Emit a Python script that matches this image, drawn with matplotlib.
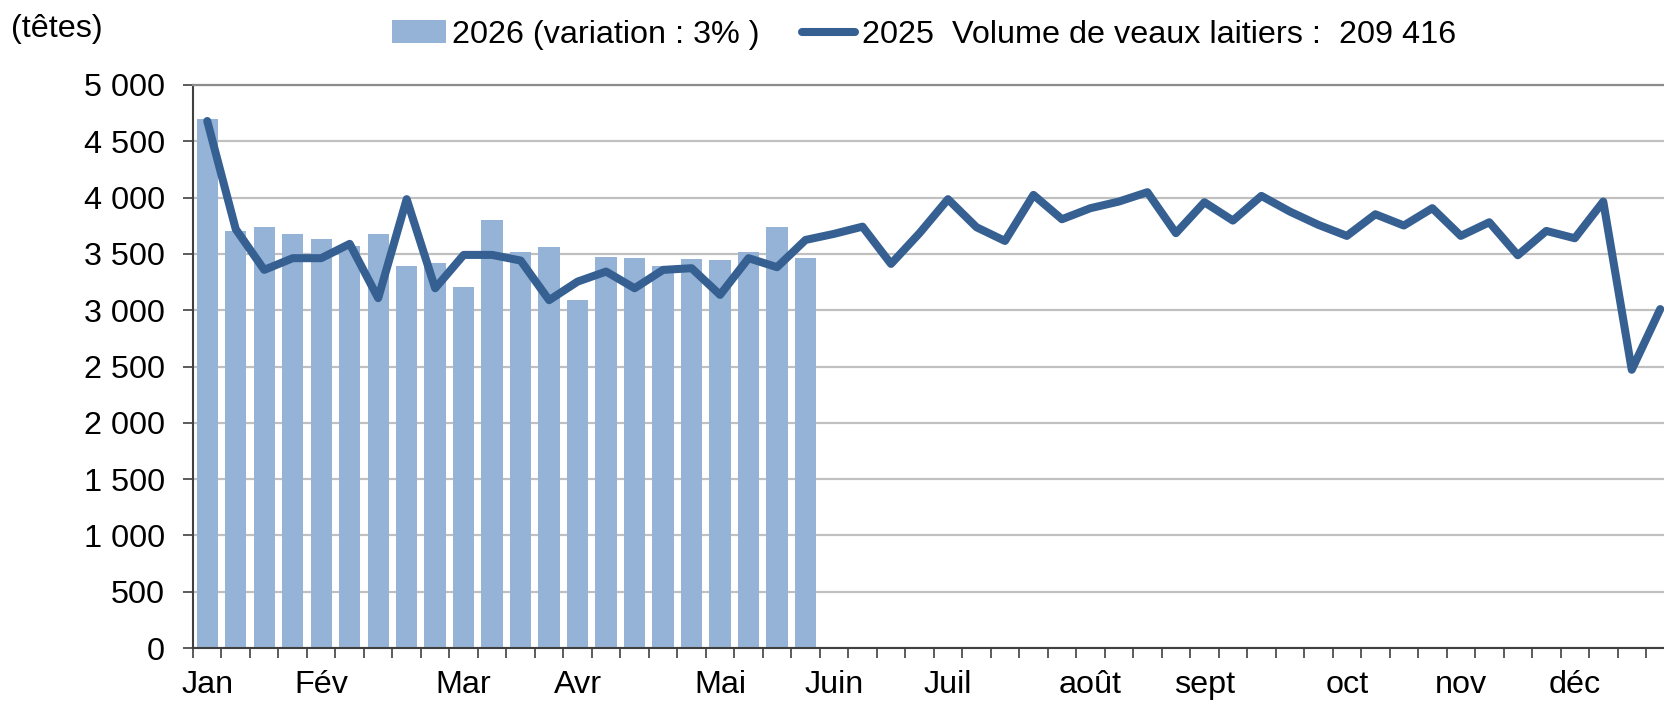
import numpy as np
import matplotlib.pyplot as plt
from matplotlib.ticker import FixedLocator, FuncFormatter

plt.rcParams['font.family'] = ['Liberation Sans', 'DejaVu Sans']

# weekly slaughter volumes (heads)
vol_2026 = [4700, 3700, 3742, 3680, 3636, 3570, 3678, 3393, 3423, 3207, 3802,
            3520, 3559, 3089, 3470, 3464, 3396, 3453, 3450, 3515, 3737, 3464]

vol_2025 = [4680, 3720, 3358, 3462, 3462, 3589, 3107, 3986, 3195, 3491, 3491,
            3441, 3089, 3254, 3343, 3195, 3358, 3373, 3136, 3462, 3382, 3624,
            3678, 3742, 3411, 3684, 3986, 3737, 3615, 4024, 3808, 3906, 3965,
            4048, 3684, 3959, 3796, 4015, 3876, 3758, 3660, 3852, 3752, 3906,
            3660, 3781, 3488, 3704, 3639, 3965, 2471, 3010]

month_labels = ['Jan', 'Fév', 'Mar', 'Avr', 'Mai', 'Juin', 'Juil',
                'août', 'sept', 'oct', 'nov', 'déc']
month_weeks = [0, 4, 9, 13, 18, 22, 26, 31, 35, 40, 44, 48]

label_2026 = '2026 (variation : 3% )'
label_2025 = '2025  Volume de veaux laitiers :  209 416'

bar_col = '#95B3D7'
line_col = '#366092'
fs = 23.3

fig = plt.figure(figsize=(16.64, 7.01), dpi=100)
ax = fig.add_axes([193 / 1664, 53 / 701, 1 - 193 / 1664, 563 / 701])

x26 = np.arange(len(vol_2026))
x25 = np.arange(len(vol_2025))
bars = ax.bar(x26, vol_2026, width=0.75, color=bar_col, zorder=2,
              label=label_2026)
line, = ax.plot(x25, vol_2025, color=line_col, lw=5.8, zorder=3,
                solid_joinstyle='round', solid_capstyle='round',
                label=label_2025)

ax.set_ylim(0, 5000)
ax.set_xlim(-0.5, (1664 - 193) / 28.49 - 0.5)

ax.set_yticks(np.arange(0, 5001, 500))
ax.yaxis.set_major_formatter(FuncFormatter(lambda v, p: f'{int(v):,}'.replace(',', ' ')))
ax.yaxis.grid(True, color='#C0C0C0', lw=1.6, zorder=0)
ax.set_axisbelow(True)

ax.set_xticks(month_weeks)
ax.set_xticklabels(month_labels)
ax.xaxis.set_minor_locator(FixedLocator(np.arange(-0.5, 53, 1)))
ax.tick_params(axis='x', which='major', length=0, pad=16, labelsize=fs)
ax.tick_params(axis='x', which='minor', length=7, width=1.2, color='#404040',
               direction='out')
ax.tick_params(axis='y', length=7, width=1.2, color='#404040', pad=13,
               labelsize=fs)

ax.spines['right'].set_visible(False)
ax.spines['top'].set_color('#8C8C8C')
ax.spines['top'].set_linewidth(1.6)
ax.spines['left'].set_color('#404040')
ax.spines['left'].set_linewidth(1.5)
ax.spines['bottom'].set_color('#404040')
ax.spines['bottom'].set_linewidth(1.5)

fig.text(11 / 1664, 1 - 29 / 701, '(têtes)', fontsize=fs, va='center',
         ha='left')

fig.legend(handles=[bars, line], loc='center', ncol=2,
           bbox_to_anchor=(924 / 1664, 1 - 35 / 701), frameon=False,
           fontsize=fs, handlelength=1.65, handletextpad=0.2,
           columnspacing=1.3, borderpad=0, borderaxespad=0)

fig.savefig('out.png', dpi=100)
